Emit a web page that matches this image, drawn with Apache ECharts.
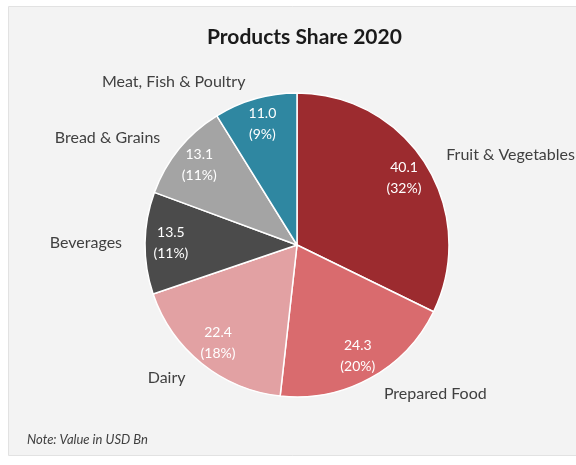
<!DOCTYPE html>
<html>
<head>
<meta charset="utf-8">
<script src="https://cdn.jsdelivr.net/npm/echarts@6/dist/echarts.min.js"></script>
<style>
html,body{margin:0;padding:0;background:#ffffff;}
#c{width:576px;height:465px;}
</style>
</head>
<body>
<div id="c"></div>
<script>
const categories = ['Fruit & Vegetables', 'Prepared Food', 'Dairy', 'Beverages', 'Bread & Grains', 'Meat, Fish & Poultry'];
const values = [40.1, 24.3, 22.4, 13.5, 13.1, 11.0];
const percents = ['32%', '20%', '18%', '11%', '11%', '9%'];
const colors = ['#9c2b2f', '#d96b6e', '#e2a1a3', '#4b4b4b', '#a4a4a4', '#2f87a1'];
const titleText = 'Products Share 2020';
const noteText = 'Note: Value in USD Bn';

const chart = echarts.init(document.getElementById('c'), null, {renderer: 'canvas'});
const center = [297, 245];
const R = 152;

const visibleData = categories.map((n, i) => ({name: n, value: values[i], itemStyle: {color: colors[i]}}));
const innerLabelData = categories.map((n, i) => ({name: n, value: values[i], pct: percents[i]}));

chart.setOption({
  animation: false,
  backgroundColor: '#ffffff',
  graphic: [{
    type: 'rect', left: 8, top: 6,
    shape: {width: 580, height: 449},
    style: {fill: '#f3f3f3', stroke: '#e2e2e2', lineWidth: 1},
    z: -10
  }],
  title: [{
    text: titleText, left: 202, top: 22,
    textStyle: {fontFamily: 'Lato', fontWeight: 'bold', fontSize: 21, color: '#1a1a1a'}
  }, {
    text: noteText, left: 22, top: 428,
    textStyle: {fontFamily: 'Lato', fontStyle: 'italic', fontWeight: 'normal', fontSize: 13, color: '#404040'}
  }],
  series: [{
    type: 'pie',
    center: center,
    radius: [0, R],
    startAngle: 90,
    clockwise: true,
    avoidLabelOverlap: false,
    itemStyle: {borderColor: '#ffffff', borderWidth: 1.5},
    label: {
      show: true, position: 'outside', formatter: '{b}',
      fontFamily: 'Lato', fontSize: 16, color: '#404040'
    },
    labelLine: {show: false, length: 18, length2: 0},
    data: visibleData
  }, {
    type: 'pie',
    center: center,
    radius: [R * 0.62, R],
    startAngle: 90,
    clockwise: true,
    silent: true,
    itemStyle: {color: 'rgba(0,0,0,0)'},
    label: {
      show: true, position: 'inside',
      formatter: p => p.value.toFixed(1) + '\n(' + p.data.pct + ')',
      fontFamily: 'Lato', fontSize: 14, lineHeight: 21, color: '#ffffff'
    },
    labelLine: {show: false},
    data: innerLabelData
  }]
});
</script>
</body>
</html>
